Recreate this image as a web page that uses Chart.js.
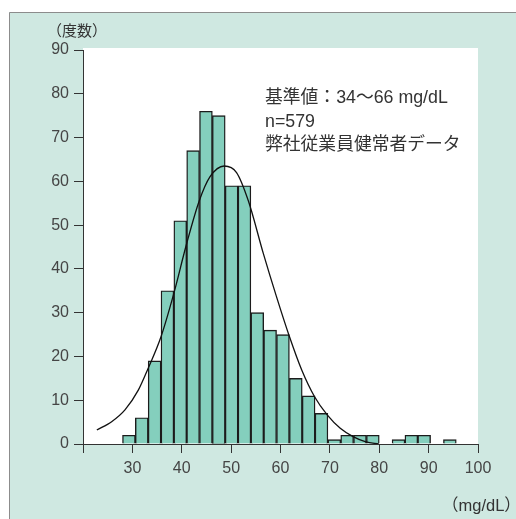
<!DOCTYPE html>
<html>
<head>
<meta charset="utf-8">
<script src="https://cdn.jsdelivr.net/npm/chart.js@4.4.0/dist/chart.umd.min.js"></script>
<style>
  html, body { margin: 0; padding: 0; background: #fff; }
  #wrap { position: relative; width: 516px; height: 519px; overflow: hidden; }
  #c { position: absolute; left: 0; top: 0; }
  .t { position: absolute; color: #333; white-space: nowrap;
       font-family: "Liberation Sans", "Noto Sans CJK JP", sans-serif; }
</style>
</head>
<body>
<div id="wrap">
  <canvas id="c" width="516" height="519"></canvas>
  <div class="t" style="left:47px; top:20px; font-size:15px; line-height:22px;">（度数）</div>
  <div class="t" style="left:265px; top:86px; font-size:17.8px; line-height:23.7px;">基準値：34～66 mg/dL<br>n=579<br>弊社従業員健常者データ</div>
  <div class="t" style="left:442px; top:494px; font-size:16.5px; line-height:22px;">（mg/dL）</div>
</div>
<script>
// Histogram bins (centre of each 2.6 mg/dL bin) and their counts
const binCenters = [29.3, 31.9, 34.5, 37.1, 39.7, 42.3, 44.9, 47.5, 50.1, 52.7,
                    55.3, 57.9, 60.5, 63.1, 65.7, 68.3, 70.9, 73.5, 76.1, 78.7,
                    81.3, 83.9, 86.5, 89.1, 91.7, 94.3];
const counts     = [2, 6, 19, 35, 51, 67, 76, 75, 59, 59,
                    30, 26, 25, 15, 11, 7, 1, 2, 2, 2,
                    0, 1, 2, 2, 0, 1];

// Fitted distribution curve, sampled points
const curveX = [22.8, 25.8, 28.5, 31.2, 33.2, 35.8, 38.3, 41.0, 43.5, 45.7,
                48.6, 51.1, 53.5, 56.5, 59.2, 61.7, 64.3, 66.9, 69.5, 72.1,
                74.7, 77.3, 79.9];
const curveY = [3.2, 5.1, 7.8, 12.3, 17.3, 24.5, 34.0, 45.8, 55.4, 61.0,
                63.5, 62.0, 55.5, 43.6, 33.6, 24.9, 16.9, 10.8, 6.6, 3.6,
                1.7, 0.5, 0.0];

// Axis ticks
const xTicks = [20, 30, 40, 50, 60, 70, 80, 90, 100];
const yTicks = [0, 10, 20, 30, 40, 50, 60, 70, 80, 90];

const barData = binCenters.map((x, i) => ({ x: x, y: counts[i] }));
const lineData = curveX.map((x, i) => ({ x: x, y: curveY[i] }));

const tickFont = { family: "'Liberation Sans', 'DejaVu Sans', sans-serif", size: 16 };

const panelBg = {
  id: 'panelBg',
  beforeDraw(chart) {
    const ctx = chart.ctx, a = chart.chartArea;
    ctx.save();
    ctx.fillStyle = '#ffffff';
    ctx.fillRect(0, 0, chart.width, chart.height);
    ctx.fillStyle = '#cfe8e1';
    ctx.fillRect(9, 12, chart.width, chart.height);
    ctx.strokeStyle = '#8c8c8c';
    ctx.lineWidth = 1;
    ctx.beginPath();
    ctx.moveTo(9.5, chart.height);
    ctx.lineTo(9.5, 12.5);
    ctx.lineTo(chart.width, 12.5);
    ctx.stroke();
    ctx.fillStyle = '#ffffff';
    ctx.fillRect(a.left, a.top - 2, a.right - a.left, a.bottom - a.top + 2);
    ctx.restore();
  }
};

new Chart(document.getElementById('c'), {
  type: 'bar',
  data: {
    datasets: [
      {
        type: 'line',
        data: lineData,
        borderColor: '#111',
        borderWidth: 1.3,
        pointRadius: 0,
        fill: false,
        cubicInterpolationMode: 'monotone',
        order: 0
      },
      {
        type: 'bar',
        data: barData,
        backgroundColor: '#84cfbd',
        borderColor: '#1c1c1c',
        borderWidth: 1.4,
        borderSkipped: 'start',
        barPercentage: 1,
        categoryPercentage: 1,
        order: 1
      }
    ]
  },
  options: {
    responsive: false,
    devicePixelRatio: 1,
    animation: false,
    layout: { padding: { left: 0, top: 50, right: 38, bottom: 40 } },
    plugins: { legend: { display: false }, tooltip: { enabled: false } },
    scales: {
      x: {
        type: 'linear',
        min: 20, max: 100,
        offset: false,
        afterFit(scale) { scale.height = 35; },
        afterBuildTicks(scale) { scale.ticks = xTicks.map(v => ({ value: v })); },
        ticks: {
          callback: v => (v === 20 ? '' : String(v)),
          color: '#454545', font: tickFont, padding: 6, maxRotation: 0, autoSkip: false
        },
        grid: { offset: false, drawOnChartArea: false, drawTicks: true, tickLength: 9, color: '#333', lineWidth: 1 },
        border: { display: true, color: '#333', width: 1 }
      },
      y: {
        min: 0, max: 90,
        afterFit(scale) { scale.width = 83; },
        afterBuildTicks(scale) { scale.ticks = yTicks.map(v => ({ value: v })); },
        ticks: { color: '#454545', font: tickFont, padding: 5, autoSkip: false },
        grid: { drawOnChartArea: false, drawTicks: true, tickLength: 9, color: '#333', lineWidth: 1 },
        border: { display: true, color: '#333', width: 1 }
      }
    }
  },
  plugins: [panelBg]
});
</script>
</body>
</html>
